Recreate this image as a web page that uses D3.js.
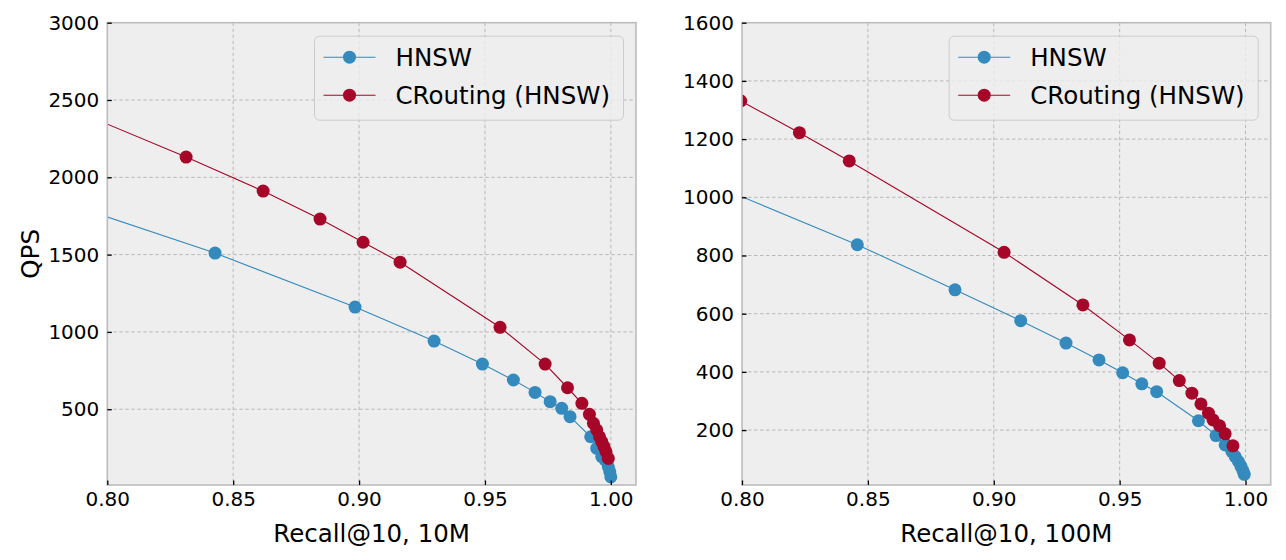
<!DOCTYPE html>
<html>
<head>
<meta charset="utf-8">
<script src="https://cdn.jsdelivr.net/npm/d3@7"></script>
<style>
  body { margin: 0; background: #fff; }
  svg { display: block; font-family: "DejaVu Sans", sans-serif; }
</style>
</head>
<body>
<svg width="1286" height="560"></svg>
<script>
// data
const xTicks = [0.80, 0.85, 0.90, 0.95, 1.00];
const yTicks10M = [500, 1000, 1500, 2000, 2500, 3000];
const yTicks100M = [200, 400, 600, 800, 1000, 1200, 1400, 1600];
const seriesNames = ["HNSW", "CRouting (HNSW)"];

const recallHnsw10M = [0.775, 0.8428, 0.8984, 0.9298, 0.949, 0.9613, 0.9699, 0.9759, 0.9805, 0.9838, 0.992, 0.9944, 0.9964, 0.9977, 0.999, 0.9996, 1.0];
const qpsHnsw10M = [1880, 1510, 1161, 941, 792, 689, 609, 549, 506, 452, 322, 247, 193, 172, 128, 95, 62];
const recallCr10M = [0.78, 0.8313, 0.8619, 0.8845, 0.9016, 0.9163, 0.956, 0.9739, 0.9828, 0.9885, 0.9915, 0.9931, 0.9944, 0.9955, 0.9964, 0.9973, 0.9981, 0.999];
const qpsCr10M = [2480, 2131, 1911, 1730, 1580, 1451, 1030, 792, 639, 538, 467, 409, 366, 322, 290, 258, 225, 182];

const recallHnsw100M = [0.78, 0.8458, 0.8846, 0.9107, 0.9287, 0.9418, 0.9512, 0.9588, 0.9647, 0.9813, 0.9883, 0.9919, 0.9946, 0.9959, 0.9972, 0.9982, 0.999, 0.9995];
const qpsHnsw100M = [1074, 837, 682, 576, 499, 441, 397, 359, 332, 232, 181, 149, 126, 109, 92, 75, 60, 48];
const recallCr100M = [0.7995, 0.8228, 0.8426, 0.9041, 0.9354, 0.9539, 0.9657, 0.9737, 0.9787, 0.9823, 0.9853, 0.9871, 0.9897, 0.9919, 0.995];
const qpsCr100M = [1331, 1222, 1125, 811, 630, 510, 430, 370, 327, 290, 258, 235, 215, 187, 146];

const colors = ["#348ABD", "#A60628"];

const svg = d3.select("svg");
const plotTop = 22.7, plotBottom = 485;

function drawPanel(id, left, right, yMin, yMax, yTicks, xLabel, yLabel, series) {
  const x = d3.scaleLinear().domain([0.8, 1.01]).range([left, right]);
  const y = d3.scaleLinear().domain([yMin, yMax]).range([plotBottom, plotTop]);
  const g = svg.append("g");

  g.append("clipPath").attr("id", "clip" + id)
    .append("rect").attr("x", left).attr("y", plotTop)
    .attr("width", right - left).attr("height", plotBottom - plotTop);

  g.append("rect").attr("x", left).attr("y", plotTop)
    .attr("width", right - left).attr("height", plotBottom - plotTop)
    .attr("fill", "#eeeeee");

  // grid
  g.append("g").selectAll("line").data(xTicks.filter(d => d > 0.8)).join("line")
    .attr("x1", d => x(d)).attr("x2", d => x(d)).attr("y1", plotTop).attr("y2", plotBottom)
    .attr("stroke", "#b2b2b2").attr("stroke-width", 0.9).attr("stroke-dasharray", "3.5,2.5");
  g.append("g").selectAll("line").data(yTicks.filter(d => d < yMax)).join("line")
    .attr("y1", d => y(d)).attr("y2", d => y(d)).attr("x1", left).attr("x2", right)
    .attr("stroke", "#b2b2b2").attr("stroke-width", 0.9).attr("stroke-dasharray", "3.5,2.5");

  // series
  const plot = g.append("g").attr("clip-path", `url(#clip${id})`);
  series.forEach((s, i) => {
    const pts = s.recall.map((r, k) => [r, s.qps[k]]);
    plot.append("path").datum(pts)
      .attr("d", d3.line().x(d => x(d[0])).y(d => y(d[1])))
      .attr("fill", "none").attr("stroke", colors[i]).attr("stroke-width", 1.1);
    plot.append("g").selectAll("circle").data(pts).join("circle")
      .attr("cx", d => x(d[0])).attr("cy", d => y(d[1])).attr("r", 6.5)
      .attr("fill", colors[i]);
  });

  // spines
  g.append("rect").attr("x", left).attr("y", plotTop)
    .attr("width", right - left).attr("height", plotBottom - plotTop)
    .attr("fill", "none").attr("stroke", "#bcbcbc").attr("stroke-width", 1.6);

  // axes (ticks inward)
  const xAxis = g.append("g").attr("transform", `translate(0,${plotBottom})`)
    .call(d3.axisBottom(x).tickValues(xTicks).tickFormat(d3.format(".2f")).tickSizeInner(-4.5).tickSizeOuter(0).tickPadding(7));
  const yAxis = g.append("g").attr("transform", `translate(${left},0)`)
    .call(d3.axisLeft(y).tickValues(yTicks).tickFormat(d3.format("d")).tickSizeInner(-4.5).tickSizeOuter(0).tickPadding(8));
  [xAxis, yAxis].forEach(a => {
    a.select(".domain").remove();
    a.selectAll(".tick line").attr("stroke", "#000").attr("stroke-width", 1.3);
    a.selectAll(".tick text").attr("fill", "#000").attr("font-size", 20)
      .attr("font-family", "DejaVu Sans");
  });

  g.append("text").attr("x", (left + right) / 2).attr("y", 542)
    .attr("text-anchor", "middle").attr("font-size", 24.5).text(xLabel);
  if (yLabel) {
    g.append("text").attr("transform", `translate(39,${(plotTop + plotBottom) / 2}) rotate(-90)`)
      .attr("text-anchor", "middle").attr("font-size", 24.5).text(yLabel);
  }

  // legend
  const lw = 309, lh = 84;
  const lx = right - 12.5 - lw, ly = plotTop + 13.5;
  const leg = g.append("g").attr("transform", `translate(${lx},${ly})`);
  leg.append("rect").attr("width", lw).attr("height", lh).attr("rx", 5)
    .attr("fill", "#eeeeee").attr("fill-opacity", 0.8)
    .attr("stroke", "#cccccc").attr("stroke-width", 1);
  seriesNames.forEach((name, i) => {
    const cy = 21 + i * 38;
    leg.append("line").attr("x1", 9).attr("x2", 61).attr("y1", cy).attr("y2", cy)
      .attr("stroke", colors[i]).attr("stroke-width", 1.1);
    leg.append("circle").attr("cx", 35).attr("cy", cy).attr("r", 6.5).attr("fill", colors[i]);
    leg.append("text").attr("x", 81).attr("y", cy).attr("dy", "0.36em")
      .attr("font-size", 24.5).text(name);
  });
}

drawPanel("a", 107.3, 636, 10, 3000, yTicks10M, "Recall@10, 10M", "QPS", [
  { recall: recallHnsw10M, qps: qpsHnsw10M },
  { recall: recallCr10M, qps: qpsCr10M }
]);
drawPanel("b", 742, 1270.7, 11.3, 1600, yTicks100M, "Recall@10, 100M", null, [
  { recall: recallHnsw100M, qps: qpsHnsw100M },
  { recall: recallCr100M, qps: qpsCr100M }
]);
</script>
</body>
</html>
